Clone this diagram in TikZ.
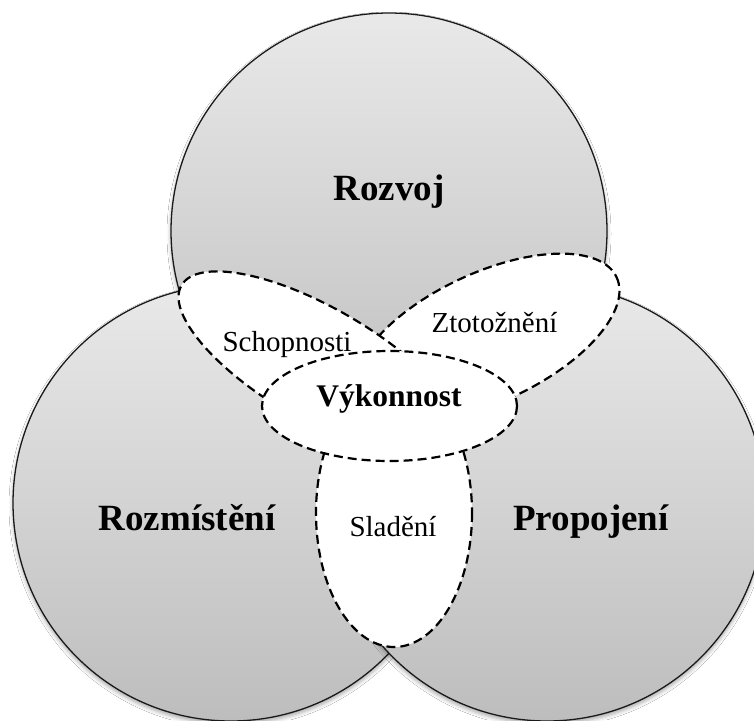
\documentclass[tikz,border=0pt]{standalone}
\usepackage{fontspec}
\setmainfont{Liberation Serif}
\usetikzlibrary{shadows.blur}
\definecolor{ringtop}{HTML}{E9E9E9}
\definecolor{ringbot}{HTML}{BDBDBD}
\definecolor{ringline}{HTML}{1A1A1A}
\begin{document}
\begin{tikzpicture}[x=1pt,y=-1pt,
  ring/.style={draw=ringline, line width=1.3pt, top color=ringtop, bottom color=ringbot,
    blur shadow={shadow xshift=0pt, shadow yshift=-3pt, shadow blur radius=4pt, shadow opacity=35}},
  lobe/.style={draw=black, fill=white, line width=2.2pt, dash pattern=on 9pt off 5pt},
  bigword/.style={font=\fontsize{37}{40}\selectfont\bfseries, anchor=base, inner sep=0pt},
  midword/.style={font=\fontsize{31.5}{34}\selectfont\bfseries, anchor=base, inner sep=0pt},
  smallword/.style={font=\fontsize{29}{32}\selectfont, anchor=base, inner sep=0pt}]
\useasboundingbox (0,0) rectangle (754,720);
\fill[white] (0,0) rectangle (754,720);
\clip (0,0) rectangle (754,720);

% the three main circles
\path[ring] (389,231) circle [radius=218];
\path[ring] (231,503) circle [radius=218];
\path[ring] (547,503) circle [radius=218];

% dashed overlap regions
\path[lobe, rotate around={25:(487,337.7)}] (487,337.7) ellipse [x radius=143, y radius=64.5];
\path[lobe, rotate around={-30:(320,365.4)}] (320,365.4) ellipse [x radius=160, y radius=57];
\path[lobe] (394,513) ellipse [x radius=78, y radius=134];
\path[lobe] (389.5,406) ellipse [x radius=127.5, y radius=55];

% labels
\node[bigword] (rozvoj) at (389,200) {Rozvoj};
\node[bigword] (rozmisteni) at (187,530) {Rozmístění};
\node[bigword] (propojeni) at (591,530) {Propojení};
\node[midword] (vykonnost) at (389,406.7) {Výkonnost};
\node[smallword] (schopnosti) at (287,351.7) {Schopnosti};
\node[smallword] (ztotozneni) at (494.5,332.7) {Ztotožnění};
\node[smallword] (sladeni) at (393,536) {Sladění};
\end{tikzpicture}
\end{document}
